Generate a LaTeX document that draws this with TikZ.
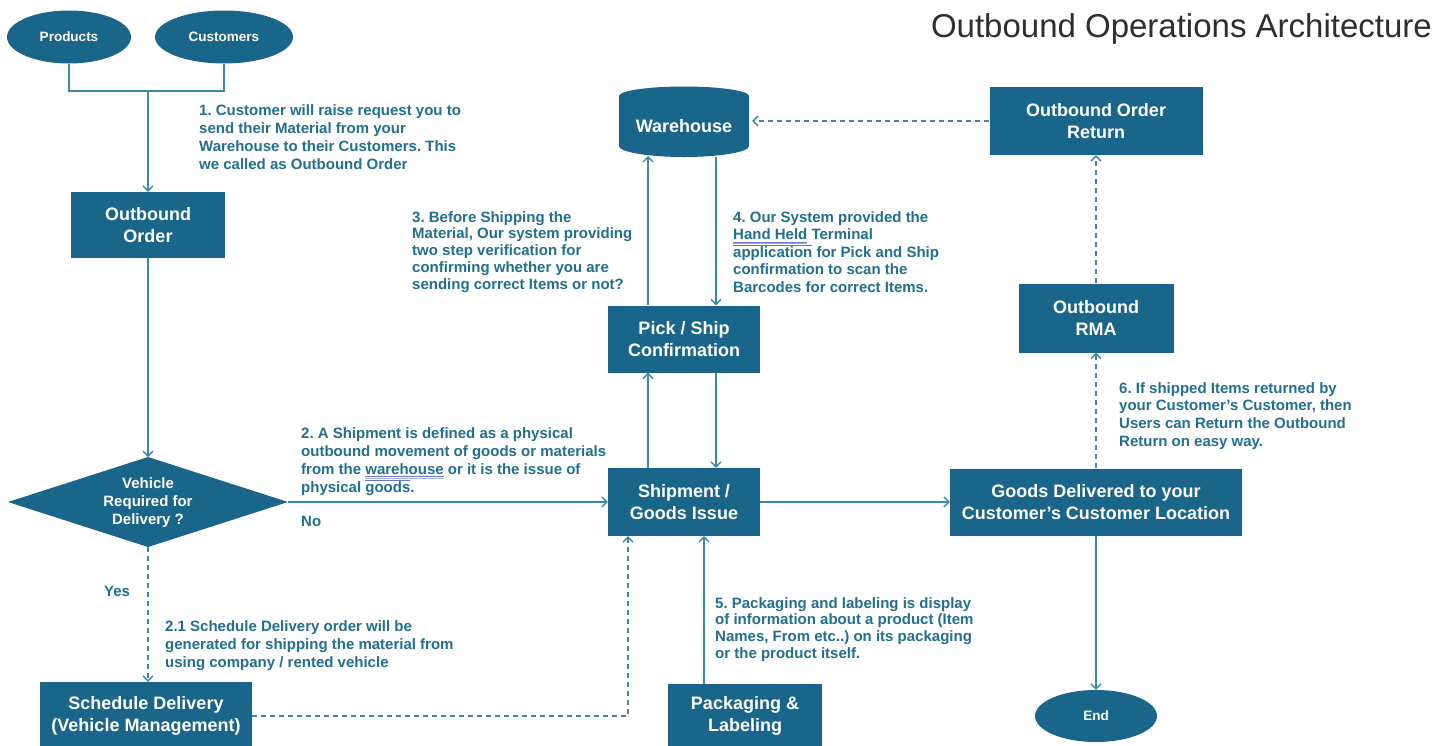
\documentclass[tikz,border=0pt]{standalone}
\usepackage{fontspec}
\setmainfont{Liberation Sans}
\usetikzlibrary{arrows.meta,shapes.geometric}
\definecolor{boxc}{HTML}{1A668A}
\definecolor{txtc}{HTML}{226F90}
\definecolor{linec}{HTML}{3D87AA}
\definecolor{ulc}{HTML}{6A76C8}
\definecolor{titlec}{HTML}{2E2E2E}
\newsavebox\ulbox
\newcommand\dul[1]{\sbox\ulbox{#1}\rlap{\textcolor{ulc}{\rule[-2.8pt]{\wd\ulbox}{0.8pt}}}\rlap{\textcolor{ulc!60}{\rule[-4.6pt]{\wd\ulbox}{0.8pt}}}\usebox\ulbox}
\newcommand\ovl[1]{\sbox\ulbox{#1}\rlap{\textcolor{ulc}{\rule[11.6pt]{\wd\ulbox}{0.8pt}}}\usebox\ulbox}
\tikzset{
  box/.style={rectangle, fill=boxc, text=white, align=center, inner sep=0pt,
    font=\bfseries\fontsize{18}{22}\selectfont},
  oval/.style={ellipse, fill=boxc, text=white, inner sep=0pt,
    font=\bfseries\fontsize{13.5}{16}\selectfont},
  note/.style={text=txtc, align=left, inner sep=0pt, anchor=north west},
  conn/.style={draw=linec, line width=1.3pt, -{Straight Barb[length=5pt,width=10pt]}},
  dconn/.style={conn, dash pattern=on 5pt off 4pt},
  plain/.style={draw=linec, line width=1.3pt}
}
\begin{document}
\frenchspacing
\begin{tikzpicture}[x=1pt,y=-1pt]
\useasboundingbox (0,0) rectangle (1448,745);
\fill[white] (0,0) rectangle (1448,745);

% title
\node[anchor=east, inner sep=0pt, text=titlec, font=\fontsize{33}{36}\selectfont] (title) at (1432,29) {Outbound Operations Architecture};

% ovals
\node[oval, minimum width=124pt, minimum height=53pt] (prod) at (69,37) {Products};
\node[oval, minimum width=138pt, minimum height=53pt] (cust) at (224,37) {Customers};
\node[oval, minimum width=122pt, minimum height=52pt] (end) at (1096,716) {End};

% boxes
\node[box, minimum width=154pt, minimum height=66pt] (outord) at (148,225) {Outbound\\Order};
\node[box, minimum width=212pt, minimum height=68pt] (sched) at (146,716) {Schedule Delivery\\(Vehicle Management)};
\node[box, minimum width=152pt, minimum height=68pt] (ship) at (684,502) {Shipment /\\Goods Issue};
\node[box, minimum width=152pt, minimum height=67pt] (pick) at (684,339) {Pick / Ship\\Confirmation};
\node[box, minimum width=154pt, minimum height=64pt] (pack) at (745,716) {Packaging \&\\Labeling};
\node[box, minimum width=292pt, minimum height=67pt] (goods) at (1096,502) {Goods Delivered to your\\Customer’s Customer Location};
\node[box, minimum width=155pt, minimum height=69pt] (rma) at (1096,318) {Outbound\\RMA};
\node[box, minimum width=213pt, minimum height=68pt] (oret) at (1096,121) {Outbound Order\\Return};

% warehouse cylinder
\fill[boxc] (619,96) rectangle (749,146);
\fill[boxc] (684,96) ellipse [x radius=65pt, y radius=9.5pt];
\fill[boxc] (684,146) ellipse [x radius=65pt, y radius=11pt];
\node[minimum width=130pt, minimum height=70pt, inner sep=0pt, text=white,
  font=\bfseries\fontsize{18}{22}\selectfont] (wh) at (684,126) {Warehouse};
\coordinate (whb) at (684,156);

% decision diamond
\coordinate (dL) at (8,502);
\coordinate (dT) at (148,457);
\coordinate (dR) at (288,502);
\coordinate (dB) at (148,547);
\fill[boxc] (dL) -- (dT) -- (dR) -- (dB) -- cycle;
\node[text=white, align=center, inner sep=0pt, font=\bfseries\fontsize{15}{18}\selectfont] (veh) at (148,503) {Vehicle\\Required for\\Delivery ?};

% connectors
\coordinate (j) at (148,91);
\draw[plain] (prod.south) |- (j) -| (cust.south);
\draw[conn] (j) -- (outord.north);
\draw[conn] (outord.south) -- (dT);
\draw[conn] (dR) -- (dR -| ship.west);
\draw[dconn] (dB) -- (dB |- sched.north);
\draw[dconn] (sched.east) -| ([xshift=-56pt]ship.south);
\draw[conn] ([xshift=-36pt]ship.north) -- ([xshift=-36pt]pick.south);
\draw[conn] ([xshift=32pt]pick.south) -- ([xshift=32pt]ship.north);
\draw[conn] ([xshift=-36pt]pick.north) -- ([xshift=-36pt]whb);
\draw[conn] ([xshift=32pt,yshift=-1pt]whb) -- ([xshift=32pt]pick.north);
\draw[conn] ([xshift=-41pt]pack.north) -- ([xshift=20pt]ship.south);
\draw[conn] (ship.east) -- (goods.west);
\draw[conn] (goods.south) -- (end.north);
\draw[dconn] (goods.north) -- (rma.south);
\draw[dconn] (rma.north) -- (oret.south);
\draw[dconn, shorten >=3pt] (oret.west) -- (wh.east |- oret.west);

% notes
\node[note, font=\bfseries\fontsize{15}{18.3}\selectfont] (n1) at (199,104)
  {1. Customer will raise request you to\\send their Material from your\\Warehouse to their Customers. This\\we called as Outbound Order};
\node[note, font=\bfseries\fontsize{15}{16.8}\selectfont] (n3) at (412,211)
  {3. Before Shipping the\\Material, Our system providing\\two step verification for\\confirming whether you are\\sending correct Items or not?};
\node[note, font=\bfseries\fontsize{15}{17.5}\selectfont] (n4) at (733,211)
  {4. Our System provided the\\\dul{Hand Held} Terminal\\\ovl{application} for Pick and Ship\\confirmation to scan the\\Barcodes for correct Items.};
\node[note, font=\bfseries\fontsize{15}{18.2}\selectfont] (n2) at (301,427)
  {2. A Shipment is defined as a physical\\outbound movement of goods or materials\\from the \dul{warehouse} or it is the issue of\\physical \ovl{goods}.};
\node[note, anchor=west, font=\bfseries\fontsize{15}{18}\selectfont] (no) at (301,521) {No};
\node[note, anchor=west, font=\bfseries\fontsize{15}{18}\selectfont] (yes) at (104,591) {Yes};
\node[note, font=\bfseries\fontsize{15}{18}\selectfont] (n21) at (165,620)
  {2.1 Schedule Delivery order will be\\generated for shipping the material from\\using company / rented vehicle};
\node[note, font=\bfseries\fontsize{15}{16.8}\selectfont] (n5) at (715,597)
  {5. Packaging and labeling is display\\of information about a product (Item\\Names, From etc..) on its packaging\\or the product itself.};
\node[note, font=\bfseries\fontsize{15}{17.8}\selectfont] (n6) at (1119,382)
  {6. If shipped Items returned by\\your Customer's Customer, then\\Users can Return the Outbound\\Return on easy way.};
\end{tikzpicture}
\end{document}
